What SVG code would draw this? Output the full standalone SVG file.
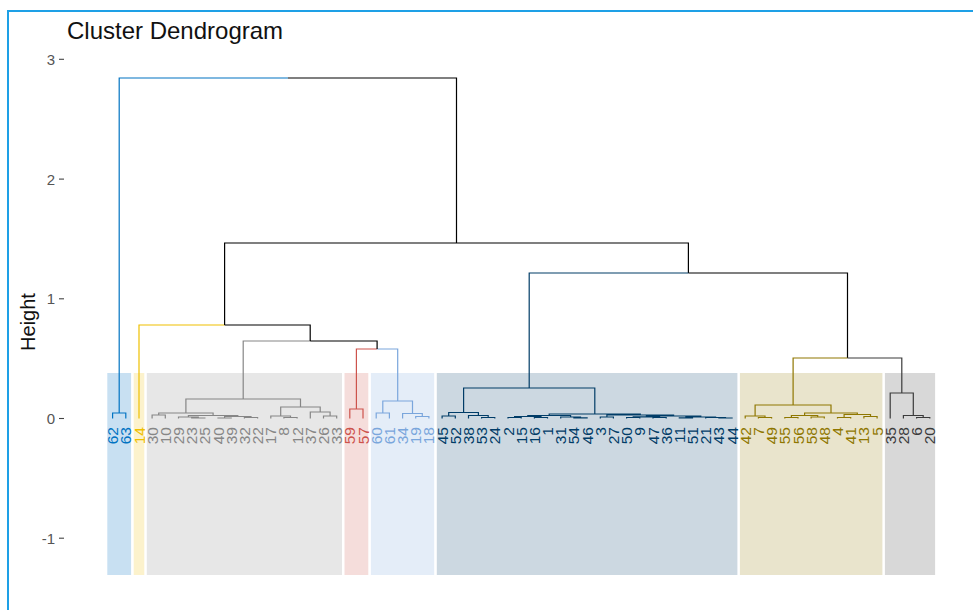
<svg xmlns="http://www.w3.org/2000/svg" width="973" height="610" viewBox="0 0 973 610">
<style>
text{font-family:"Liberation Sans",Arial,sans-serif}
.lab{font-size:15.5px;text-anchor:end}
.tick{font-size:15px;fill:#555;text-anchor:end}
.tk{stroke:#444;stroke-width:1.1}
.e{fill:none;stroke-width:1.2}
.c1{stroke:#0073C2}.c2{stroke:#EFC000}.c3{stroke:#868686}.c4{stroke:#CD534C}
.c5{stroke:#7AA6DC}.c6{stroke:#003C67}.c7{stroke:#8F7700}.c8{stroke:#3B3B3B}.c0{stroke:#000}
.t1{fill:#0073C2}.t2{fill:#EFC000}.t3{fill:#868686}.t4{fill:#CD534C}
.t5{fill:#7AA6DC}.t6{fill:#003C67}.t7{fill:#8F7700}.t8{fill:#3B3B3B}
</style>
<rect width="973" height="610" fill="#fff"/>
<path d="M8,612V11H975" fill="none" stroke="#1ea0e6" stroke-width="2"/>
<text x="67" y="39" font-size="24" fill="#111">Cluster Dendrogram</text>
<g id="axis">
<line class="tk" x1="59" y1="59.3" x2="64" y2="59.3"/>
<line class="tk" x1="59" y1="179.1" x2="64" y2="179.1"/>
<line class="tk" x1="59" y1="298.8" x2="64" y2="298.8"/>
<line class="tk" x1="59" y1="418.5" x2="64" y2="418.5"/>
<line class="tk" x1="59" y1="538.2" x2="64" y2="538.2"/>
<text class="tick" x="55" y="65">3</text>
<text class="tick" x="55" y="184.7">2</text>
<text class="tick" x="55" y="304.4">1</text>
<text class="tick" x="55" y="424">0</text>
<text class="tick" x="55" y="543.7">-1</text>
<text transform="translate(35,322) rotate(-90)" font-size="20" fill="#111" text-anchor="middle">Height</text>
</g>
<g id="cluster-rects">
<rect x="107.3" y="373" width="23.8" height="202" fill="#c8e0f2"/>
<rect x="133.7" y="373" width="10.6" height="202" fill="#fcf2cc"/>
<rect x="146.8" y="373" width="195.2" height="202" fill="#e7e7e7"/>
<rect x="344.5" y="373" width="23.8" height="202" fill="#f5dddb"/>
<rect x="370.9" y="373" width="63.3" height="202" fill="#e4edf8"/>
<rect x="436.8" y="373" width="300.6" height="202" fill="#ccd8e1"/>
<rect x="739.9" y="373" width="142.5" height="202" fill="#e9e4cc"/>
<rect x="884.9" y="373" width="50.2" height="202" fill="#d8d8d8"/>
</g>
<g id="connectors">
<path class="e c1" d="M112.6,418.5V413H119.2M125.8,418.5V413H119.2M119.2,413V78H287.9"/>
<path class="e c2" d="M139,418.5V325H224.6"/>
<path class="e c3" d="M152.1,418.5V415H158.7M165.3,418.5V415H158.7M178.5,418.5V417H188.4M191.7,418.5V418H198.3M204.9,418.5V418H198.3M198.3,418V417H188.4M218,418.5V418H224.6M231.2,418.5V418H224.6M244.4,418.5V417.5H251M257.6,418.5V417.5H251M224.6,418V416.5H237.8M251,417.5V416.5H237.8M188.4,417V415.5H213.1M237.8,416.5V415.5H213.1M158.7,415V413H185.9M213.1,415.5V413H185.9M270.8,418.5V416H280.7M283.9,418.5V417.5H290.5M297.1,418.5V417.5H290.5M290.5,417.5V416H280.7M310.3,418.5V412H320.2M323.5,418.5V416H330.1M336.7,418.5V416H330.1M330.1,416V412H320.2M280.7,416V407H300.5M320.2,412V407H300.5M185.9,413V399H243.2M300.5,407V399H243.2M243.2,399V341H310.2"/>
<path class="e c4" d="M349.8,418.5V409H356.4M363,418.5V409H356.4M356.4,409V349H377.1"/>
<path class="e c5" d="M376.2,418.5V413H382.8M389.4,418.5V413H382.8M415.7,418.5V416.5H422.3M428.9,418.5V416.5H422.3M402.6,418.5V413.5H412.5M422.3,416.5V413.5H412.5M382.8,413V401H397.7M412.5,413.5V401H397.7M397.7,401V349H377.1"/>
<path class="e c0" d="M310.2,341V325H224.6M377.1,349V341H310.2M224.6,325V243H456.5M688.4,273V243H456.5M456.5,243V78H287.9M847.5,358V273H688.4"/>
<path class="e c6" d="M442.1,418.5V416H448.7M455.3,418.5V416H448.7M481.6,418.5V417.5H488.2M494.8,418.5V417.5H488.2M468.5,418.5V415.5H478.4M488.2,417.5V415.5H478.4M448.7,416V412.5H463.6M478.4,415.5V412.5H463.6M508,418.5V417.5H514.6M521.2,418.5V417.5H514.6M534.4,418.5V417.5H541M547.5,418.5V417.5H541M514.6,417.5V416.5H527.8M541,417.5V416.5H527.8M573.9,418.5V417.8H580.5M587.1,418.5V417.8H580.5M560.7,418.5V417H570.6M580.5,417.8V417H570.6M527.8,416.5V415.5H549.2M570.6,417V415.5H549.2M600.3,418.5V417H606.9M613.4,418.5V417H606.9M626.6,418.5V417.5H633.2M639.8,418.5V417.5H633.2M653,418.5V417.5H659.6M666.2,418.5V417.5H659.6M633.2,417.5V416.8H646.4M659.6,417.5V416.8H646.4M679.3,418.5V417.8H685.9M692.5,418.5V417.8H685.9M718.9,418.5V418H725.5M732.1,418.5V418H725.5M705.7,418.5V417.5H715.6M725.5,418V417.5H715.6M685.9,417.8V417H700.8M715.6,417.5V417H700.8M646.4,416.8V416H673.6M700.8,417V416H673.6M606.9,417V415H640.3M673.6,416V415H640.3M549.2,415.5V414H594.8M640.3,415V414H594.8M463.6,412.5V388H529.2M594.8,414V388H529.2M529.2,388V273H688.4"/>
<path class="e c7" d="M758.4,418.5V417.5H765M771.6,418.5V417.5H765M745.2,418.5V416H755.1M765,417.5V416H755.1M784.8,418.5V417.5H791.4M798,418.5V417.5H791.4M811.1,418.5V417H817.7M824.3,418.5V417H817.7M791.4,417.5V415.5H804.6M817.7,417V415.5H804.6M837.5,418.5V417.5H844.1M850.7,418.5V417.5H844.1M863.9,418.5V416.5H870.5M877.1,418.5V416.5H870.5M844.1,417.5V414.5H857.3M870.5,416.5V414.5H857.3M804.6,415.5V413H831M857.3,414.5V413H831M755.1,416V405H793.1M831,413V405H793.1M793.1,405V358H847.5"/>
<path class="e c8" d="M916.6,418.5V417.5H923.2M929.8,418.5V417.5H923.2M903.4,418.5V415.5H913.3M923.2,417.5V415.5H913.3M890.2,418.5V393H901.8M913.3,415.5V393H901.8M901.8,393V358H847.5"/>
</g>
<g id="cluster1" class="lab t1">
<text transform="translate(118.1,427) rotate(-90)">62</text>
<text transform="translate(131.3,427) rotate(-90)">63</text>
</g>
<g id="cluster2" class="lab t2">
<text transform="translate(144.5,427) rotate(-90)">14</text>
</g>
<g id="cluster3" class="lab t3">
<text transform="translate(157.6,427) rotate(-90)">30</text>
<text transform="translate(170.8,427) rotate(-90)">10</text>
<text transform="translate(184,427) rotate(-90)">29</text>
<text transform="translate(197.2,427) rotate(-90)">23</text>
<text transform="translate(210.4,427) rotate(-90)">25</text>
<text transform="translate(223.5,427) rotate(-90)">40</text>
<text transform="translate(236.7,427) rotate(-90)">39</text>
<text transform="translate(249.9,427) rotate(-90)">32</text>
<text transform="translate(263.1,427) rotate(-90)">22</text>
<text transform="translate(276.3,427) rotate(-90)">17</text>
<text transform="translate(289.4,427) rotate(-90)">8</text>
<text transform="translate(302.6,427) rotate(-90)">12</text>
<text transform="translate(315.8,427) rotate(-90)">37</text>
<text transform="translate(329,427) rotate(-90)">26</text>
<text transform="translate(342.2,427) rotate(-90)">33</text>
</g>
<g id="cluster4" class="lab t4">
<text transform="translate(355.3,427) rotate(-90)">59</text>
<text transform="translate(368.5,427) rotate(-90)">57</text>
</g>
<g id="cluster5" class="lab t5">
<text transform="translate(381.7,427) rotate(-90)">60</text>
<text transform="translate(394.9,427) rotate(-90)">61</text>
<text transform="translate(408.1,427) rotate(-90)">34</text>
<text transform="translate(421.2,427) rotate(-90)">19</text>
<text transform="translate(434.4,427) rotate(-90)">18</text>
</g>
<g id="cluster6" class="lab t6">
<text transform="translate(447.6,427) rotate(-90)">45</text>
<text transform="translate(460.8,427) rotate(-90)">52</text>
<text transform="translate(474,427) rotate(-90)">38</text>
<text transform="translate(487.1,427) rotate(-90)">53</text>
<text transform="translate(500.3,427) rotate(-90)">24</text>
<text transform="translate(513.5,427) rotate(-90)">2</text>
<text transform="translate(526.7,427) rotate(-90)">15</text>
<text transform="translate(539.9,427) rotate(-90)">16</text>
<text transform="translate(553,427) rotate(-90)">1</text>
<text transform="translate(566.2,427) rotate(-90)">31</text>
<text transform="translate(579.4,427) rotate(-90)">54</text>
<text transform="translate(592.6,427) rotate(-90)">46</text>
<text transform="translate(605.8,427) rotate(-90)">3</text>
<text transform="translate(618.9,427) rotate(-90)">27</text>
<text transform="translate(632.1,427) rotate(-90)">50</text>
<text transform="translate(645.3,427) rotate(-90)">9</text>
<text transform="translate(658.5,427) rotate(-90)">47</text>
<text transform="translate(671.7,427) rotate(-90)">36</text>
<text transform="translate(684.8,427) rotate(-90)">11</text>
<text transform="translate(698,427) rotate(-90)">51</text>
<text transform="translate(711.2,427) rotate(-90)">21</text>
<text transform="translate(724.4,427) rotate(-90)">43</text>
<text transform="translate(737.6,427) rotate(-90)">44</text>
</g>
<g id="cluster7" class="lab t7">
<text transform="translate(750.7,427) rotate(-90)">42</text>
<text transform="translate(763.9,427) rotate(-90)">7</text>
<text transform="translate(777.1,427) rotate(-90)">49</text>
<text transform="translate(790.3,427) rotate(-90)">55</text>
<text transform="translate(803.5,427) rotate(-90)">56</text>
<text transform="translate(816.6,427) rotate(-90)">58</text>
<text transform="translate(829.8,427) rotate(-90)">48</text>
<text transform="translate(843,427) rotate(-90)">4</text>
<text transform="translate(856.2,427) rotate(-90)">41</text>
<text transform="translate(869.4,427) rotate(-90)">13</text>
<text transform="translate(882.6,427) rotate(-90)">5</text>
</g>
<g id="cluster8" class="lab t8">
<text transform="translate(895.7,427) rotate(-90)">35</text>
<text transform="translate(908.9,427) rotate(-90)">28</text>
<text transform="translate(922.1,427) rotate(-90)">6</text>
<text transform="translate(935.3,427) rotate(-90)">20</text>
</g>
</svg>
